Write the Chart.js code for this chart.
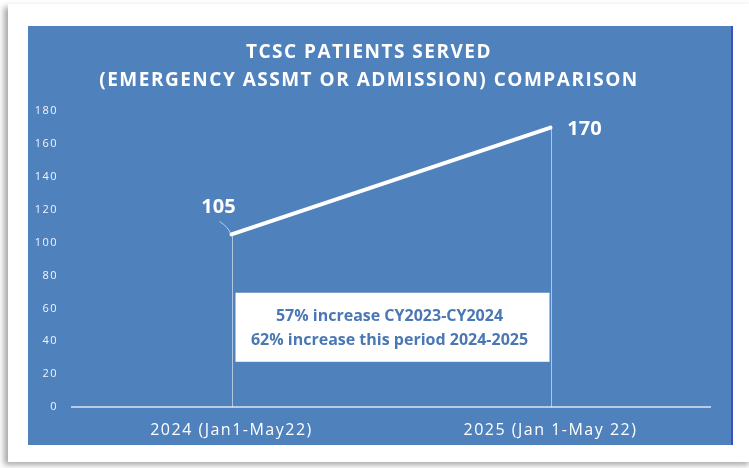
<!DOCTYPE html>
<html>
<head>
<meta charset="utf-8">
<script src="https://cdn.jsdelivr.net/npm/chart.js@4"></script>
<style>
  html, body { margin: 0; padding: 0; background: #ffffff; width: 749px; height: 468px; overflow: hidden; }
  #card { position: absolute; left: 8px; top: 4px; width: 745px; height: 458px; background: #fff;
          box-shadow: -4px 3px 6px rgba(0,0,0,0.35); }
  #panel { position: absolute; left: 28px; top: 26px; width: 703px; height: 419px; background: #4f81bd;
           border-right: 2px solid #3b4fc0; }
  canvas { display: block; }
</style>
</head>
<body>
<div id="card"></div>
<div id="panel"><canvas id="c" width="703" height="419"></canvas></div>
<script>
const categories = ['2024 (Jan1-May22)', '2025 (Jan 1-May 22)'];
const patientsServed = [105, 170];
const titleLines = ['TCSC PATIENTS SERVED', '(EMERGENCY ASSMT OR ADMISSION) COMPARISON'];
const noteLines = ['57% increase CY2023-CY2024', '62% increase this period 2024-2025'];
const yTicks = [0, 20, 40, 60, 80, 100, 120, 140, 160, 180];

const decor = {
  id: 'decor',
  beforeDraw(chart) {
    chart.ctx.letterSpacing = '1.5px';
  },
  afterDraw(chart) {
    chart.ctx.letterSpacing = '0px';
  },
  beforeDatasetsDraw(chart) {
    const ctx = chart.ctx;
    ctx.letterSpacing = '0px';
    const meta = chart.getDatasetMeta(0);
    const yb = chart.scales.y.getPixelForValue(0);
    ctx.save();
    ctx.strokeStyle = 'rgba(255,255,255,0.55)';
    ctx.lineWidth = 1;
    meta.data.forEach(p => {
      ctx.beginPath();
      ctx.moveTo(Math.round(p.x) + 0.5, p.y);
      ctx.lineTo(Math.round(p.x) + 0.5, yb);
      ctx.stroke();
    });
    ctx.restore();
  },
  afterDatasetsDraw(chart) {
    const ctx = chart.ctx;
    const meta = chart.getDatasetMeta(0);
    const y = chart.scales.y;
    const p0 = meta.data[0], p1 = meta.data[1];
    // note box
    const top = y.getPixelForValue(69.5), bot = y.getPixelForValue(27.5);
    const left = p0.x + 4, right = p1.x - 1;
    ctx.save();
    ctx.fillStyle = '#ffffff';
    ctx.fillRect(left, top, right - left, bot - top);
    ctx.fillStyle = '#4a78b4';
    ctx.font = 'bold 16px "Open Sans"';
    ctx.textAlign = 'center';
    ctx.textBaseline = 'middle';
    const cx = (left + right) / 2 - 3;
    ctx.fillText(noteLines[0], cx, top + 24);
    ctx.fillText(noteLines[1], cx, top + 48);
    // data labels
    ctx.fillStyle = '#ffffff';
    ctx.font = 'bold 20px "Open Sans"';
    ctx.fillText(String(patientsServed[0]), p0.x - 13, p0.y - 27);
    ctx.fillText(String(patientsServed[1]), p1.x + 34, p1.y + 2);
    // leader line
    ctx.strokeStyle = 'rgba(255,255,255,0.6)';
    ctx.lineWidth = 1;
    ctx.beginPath();
    ctx.moveTo(p0.x - 12, p0.y - 13);
    ctx.quadraticCurveTo(p0.x - 3, p0.y - 7, p0.x - 1, p0.y - 1);
    ctx.stroke();
    ctx.restore();
  }
};

new Chart(document.getElementById('c'), {
  type: 'line',
  data: {
    labels: categories,
    datasets: [{
      data: patientsServed,
      borderColor: '#ffffff',
      borderWidth: 4,
      pointRadius: 0,
      tension: 0,
      borderCapStyle: 'round'
    }]
  },
  options: {
    responsive: false,
    animation: false,
    devicePixelRatio: 1,
    layout: { padding: { left: 0, right: 21, top: 0, bottom: 0 } },
    plugins: {
      legend: { display: false },
      tooltip: { enabled: false },
      title: {
        display: true,
        text: titleLines,
        color: '#ffffff',
        font: { family: 'Open Sans', weight: 'bold', size: 19, lineHeight: 1.45 },
        padding: { top: 13, bottom: 17 }
      }
    },
    scales: {
      x: {
        offset: true,
        grid: { display: false, drawTicks: false },
        border: { display: true, color: 'rgba(255,255,255,0.6)', width: 2 },
        ticks: { color: '#ffffff', font: { family: 'Open Sans', size: 16 }, padding: 14, maxRotation: 0 },
        afterFit(s) { s.height = 38; }
      },
      y: {
        min: 0, max: 180,
        afterBuildTicks(s) { s.ticks = yTicks.map(v => ({ value: v })); },
        grid: { display: false, drawTicks: false },
        border: { display: false },
        ticks: { color: 'rgba(255,255,255,0.92)', font: { family: 'Open Sans', size: 11 }, padding: 14 },
        afterFit(s) { s.width = 44; }
      }
    }
  },
  plugins: [decor]
});
</script>
</body>
</html>
